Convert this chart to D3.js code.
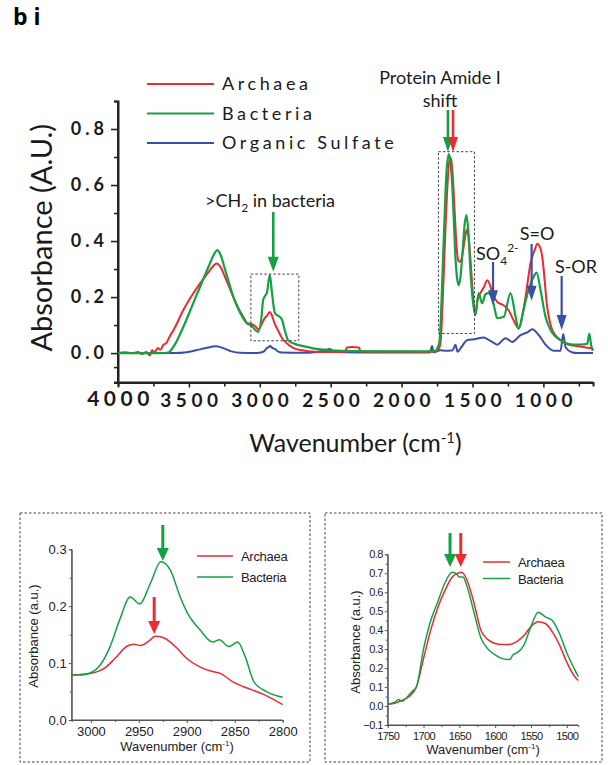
<!DOCTYPE html>
<html>
<head>
<meta charset="utf-8">
<script src="https://cdn.jsdelivr.net/npm/d3@7"></script>
<style>
  body { margin: 0; background: #fff; }
  svg { display: block; }
</style>
</head>
<body>
<div id="chart"></div>
<script>
// ---- main spectrum data (wavenumber, absorbance) ----
const archaeaWn = [4000, 3950, 3900, 3860, 3830, 3800, 3775, 3760, 3740, 3720, 3700, 3680, 3660, 3640, 3600, 3539, 3480, 3421, 3360, 3320, 3303, 3280, 3240, 3186, 3140, 3100, 3091, 3060, 3030, 3010, 2990, 2965, 2950, 2930, 2915, 2895, 2870, 2845, 2810, 2762, 2700, 2640, 2500, 2400, 2385, 2350, 2300, 2290, 2200, 2000, 1850, 1760, 1740, 1725, 1705, 1690, 1675, 1660, 1650, 1640, 1625, 1612, 1600, 1590, 1578, 1565, 1550, 1540, 1530, 1515, 1500, 1480, 1465, 1444, 1420, 1396, 1375, 1361, 1326, 1279, 1246, 1211, 1175, 1126, 1091, 1060, 1043, 1025, 1008, 973, 937, 879, 820, 761, 700, 667, 650];
const archaeaAbs = [0.000, 0.003, -0.001, 0.004, -0.004, 0.004, -0.009, 0.010, 0.004, 0.018, 0.012, 0.030, 0.035, 0.055, 0.090, 0.154, 0.205, 0.249, 0.290, 0.315, 0.320, 0.310, 0.265, 0.200, 0.150, 0.115, 0.107, 0.104, 0.095, 0.085, 0.100, 0.125, 0.133, 0.147, 0.135, 0.105, 0.080, 0.055, 0.035, 0.018, 0.010, 0.006, 0.004, 0.004, 0.020, 0.022, 0.020, 0.006, 0.005, 0.005, 0.004, 0.006, 0.012, 0.040, 0.250, 0.450, 0.610, 0.700, 0.690, 0.640, 0.500, 0.380, 0.330, 0.326, 0.335, 0.370, 0.420, 0.440, 0.425, 0.340, 0.230, 0.136, 0.190, 0.214, 0.235, 0.260, 0.240, 0.214, 0.183, 0.170, 0.154, 0.118, 0.089, 0.200, 0.320, 0.370, 0.390, 0.380, 0.344, 0.165, 0.082, 0.046, 0.030, 0.025, 0.020, 0.018, 0.010];

const bacteriaWn = [4000, 3800, 3700, 3645, 3600, 3539, 3480, 3421, 3360, 3320, 3299, 3280, 3240, 3186, 3140, 3100, 3091, 3060, 3030, 3011, 2990, 2976, 2962, 2950, 2929, 2915, 2895, 2880, 2861, 2844, 2821, 2800, 2750, 2693, 2600, 2524, 2400, 2291, 2100, 1900, 1760, 1745, 1733, 1726, 1703, 1684, 1667, 1655, 1645, 1632, 1620, 1608, 1597, 1585, 1570, 1555, 1542, 1530, 1515, 1500, 1480, 1456, 1432, 1408, 1385, 1352, 1326, 1279, 1232, 1196, 1175, 1140, 1105, 1069, 1048, 1020, 985, 949, 879, 787, 700, 690, 676, 662, 650];
const bacteriaAbs = [0.000, 0.000, 0.000, 0.002, 0.030, 0.094, 0.165, 0.237, 0.310, 0.355, 0.368, 0.355, 0.290, 0.200, 0.145, 0.112, 0.107, 0.098, 0.082, 0.076, 0.120, 0.190, 0.205, 0.215, 0.279, 0.220, 0.145, 0.136, 0.130, 0.120, 0.076, 0.046, 0.032, 0.025, 0.015, 0.011, 0.008, 0.007, 0.006, 0.006, 0.008, 0.020, 0.040, 0.094, 0.400, 0.640, 0.710, 0.680, 0.620, 0.480, 0.340, 0.265, 0.243, 0.270, 0.360, 0.460, 0.493, 0.440, 0.300, 0.200, 0.136, 0.214, 0.178, 0.210, 0.214, 0.178, 0.125, 0.130, 0.214, 0.130, 0.086, 0.154, 0.225, 0.272, 0.287, 0.225, 0.130, 0.082, 0.046, 0.030, 0.032, 0.034, 0.070, 0.025, 0.010];

const sulfateWn = [4000, 3800, 3600, 3515, 3450, 3380, 3311, 3260, 3200, 3138, 3050, 3000, 2970, 2950, 2935, 2927, 2910, 2891, 2870, 2844, 2700, 2600, 2540, 2510, 2480, 2400, 2200, 2000, 1850, 1800, 1785, 1775, 1740, 1726, 1691, 1640, 1620, 1605, 1580, 1538, 1479, 1420, 1380, 1361, 1326, 1267, 1220, 1161, 1110, 1078, 1032, 985, 926, 879, 860, 843, 800, 761, 650];
const sulfateAbs = [0.000, 0.000, 0.000, 0.003, 0.010, 0.018, 0.024, 0.018, 0.006, 0.001, 0.000, 0.001, 0.006, 0.018, 0.022, 0.026, 0.018, 0.014, 0.005, 0.002, 0.001, 0.004, 0.010, 0.015, 0.008, 0.003, 0.002, 0.002, 0.002, 0.002, 0.025, 0.003, 0.008, 0.010, 0.008, 0.010, 0.030, 0.005, 0.020, 0.046, 0.050, 0.056, 0.045, 0.040, 0.030, 0.053, 0.040, 0.064, 0.075, 0.085, 0.064, 0.030, 0.008, 0.008, 0.068, 0.020, 0.003, 0.000, 0.000];

const mainXTicks = [4000, 3500, 3000, 2500, 2000, 1500, 1000];
const mainYTicks = [0.0, 0.2, 0.4, 0.6, 0.8];
const legendNames = ["Archaea", "Bacteria", "Organic Sulfate"];

// ---- inset: CH2 stretch region ----
const chArchaeaWn = [3020, 3000, 2985, 2975, 2962, 2955, 2948, 2940, 2933, 2925, 2910, 2900, 2886, 2875, 2865, 2851, 2840, 2820, 2800];
const chArchaeaAbs = [0.079, 0.082, 0.092, 0.108, 0.130, 0.133, 0.131, 0.138, 0.147, 0.145, 0.126, 0.108, 0.093, 0.086, 0.082, 0.066, 0.058, 0.045, 0.027];
const chBacteriaWn = [3020, 3010, 3000, 2990, 2980, 2970, 2959, 2949, 2938, 2927, 2917, 2907, 2900, 2886, 2873, 2866, 2856, 2847, 2839, 2830, 2817, 2800];
const chBacteriaAbs = [0.079, 0.079, 0.083, 0.097, 0.129, 0.176, 0.216, 0.204, 0.240, 0.278, 0.263, 0.217, 0.190, 0.158, 0.137, 0.141, 0.129, 0.137, 0.111, 0.067, 0.050, 0.040];
const chXTicks = [3000, 2950, 2900, 2850, 2800];
const chYTicks = [0.0, 0.1, 0.2, 0.3];

// ---- inset: amide I / II region ----
const amArchaeaWn = [1750, 1740, 1730, 1720, 1710, 1700, 1690, 1680, 1670, 1660, 1652, 1647, 1640, 1630, 1620, 1610, 1600, 1590, 1580, 1570, 1560, 1550, 1540, 1530, 1520, 1510, 1500, 1490, 1484];
const amArchaeaAbs = [0.010, 0.015, 0.030, 0.050, 0.100, 0.250, 0.400, 0.520, 0.610, 0.680, 0.700, 0.705, 0.670, 0.550, 0.400, 0.350, 0.330, 0.325, 0.325, 0.340, 0.370, 0.420, 0.445, 0.435, 0.390, 0.320, 0.230, 0.160, 0.135];
const amBacteriaWn = [1750, 1740, 1735, 1730, 1720, 1715, 1710, 1700, 1690, 1680, 1670, 1660, 1655, 1650, 1645, 1640, 1630, 1620, 1610, 1600, 1590, 1580, 1575, 1570, 1560, 1550, 1540, 1530, 1520, 1510, 1500, 1490, 1484];
const amBacteriaAbs = [0.010, 0.020, 0.035, 0.025, 0.060, 0.080, 0.100, 0.300, 0.450, 0.550, 0.650, 0.705, 0.700, 0.680, 0.680, 0.640, 0.500, 0.360, 0.300, 0.270, 0.250, 0.245, 0.270, 0.280, 0.320, 0.420, 0.495, 0.470, 0.450, 0.380, 0.280, 0.200, 0.155];
const amXTicks = [1750, 1700, 1650, 1600, 1550, 1500];
const amYTicks = [-0.1, 0.0, 0.1, 0.2, 0.3, 0.4, 0.5, 0.6, 0.7, 0.8];

const RED = "#ec2a2f", GREEN = "#16a045", BLUE = "#3a4fa6";

const svg = d3.select("#chart").append("svg")
    .attr("width", 608).attr("height", 765);

function zip(xs, ys) { return xs.map((w, i) => ({w: w, a: ys[i]})); }

function arrow(g, x, y1, y2, color, sw, hw, hh) {
    g.append("line")
        .attr("x1", x).attr("x2", x).attr("y1", y1).attr("y2", y2 - hh + 1)
        .attr("stroke", color).attr("stroke-width", sw);
    g.append("path")
        .attr("d", `M${x - hw / 2},${y2 - hh}L${x + hw / 2},${y2 - hh}L${x},${y2}Z`)
        .attr("fill", color);
}

svg.append("text")
    .attr("x", 13).attr("y", 25)
    .style("font-family", "'Open Sans', sans-serif").style("font-weight", "bold").style("font-size", "23px")
    .text("b i");

// ================= main chart =================
const x = d3.scaleLinear().domain([4000, 650]).range([118, 593]);
const y = d3.scaleLinear().domain([-0.105, 0.9]).range([382.5, 101]);

const main = svg.append("g");

const xAxis = main.append("g")
    .attr("transform", `translate(0,${y(-0.105)})`)
    .call(d3.axisBottom(x).tickValues(mainXTicks).tickSize(5).tickFormat(d3.format("d")));
main.append("g")
    .attr("transform", `translate(0,${y(-0.105)})`)
    .call(d3.axisBottom(x).tickValues(d3.range(3750, 649, -500)).tickSize(4).tickFormat(""));
const yAxis = main.append("g")
    .attr("transform", `translate(${x(4000)},0)`)
    .call(d3.axisLeft(y).tickValues(mainYTicks).tickSize(7).tickFormat(d3.format(".1f")));
main.append("g")
    .attr("transform", `translate(${x(4000)},0)`)
    .call(d3.axisLeft(y).tickValues([-0.05, 0.1, 0.3, 0.5, 0.7, 0.9]).tickSize(4).tickFormat(""));

main.selectAll(".domain").attr("stroke", "#222").attr("stroke-width", 2);
main.selectAll(".tick line").attr("stroke", "#222").attr("stroke-width", 1.6);
xAxis.select(".domain").attr("d", `M${x(4000) - 4},0H${x(650)}`);
yAxis.select(".domain").attr("d", `M0,${y(-0.105)}V${y(0.9)}`);

xAxis.selectAll("text")
    .attr("y", 11).attr("dy", "0.71em").attr("dx", "2px")
    .style("font-family", "Lato, sans-serif").style("font-weight", "bold")
    .style("font-size", "19px").style("letter-spacing", "4.5px").attr("fill", "#1a1a1a");
xAxis.selectAll("text").filter(d => d === 4000).style("font-size", "21px").attr("y", 9);
yAxis.selectAll("text")
    .attr("x", -10)
    .style("font-family", "Lato, sans-serif").style("font-weight", "bold")
    .style("font-size", "18px").style("letter-spacing", "4px").attr("fill", "#1a1a1a");

main.append("text")
    .attr("transform", `translate(52,${(y(-0.105) + y(0.9)) / 2 - 4}) rotate(-90)`)
    .attr("text-anchor", "middle")
    .style("font-family", "Lato, sans-serif").style("font-size", "29px").attr("fill", "#1a1a1a")
    .text("Absorbance (A.U.)");

const xt = main.append("text")
    .attr("x", (x(4000) + x(650)) / 2).attr("y", 452)
    .attr("text-anchor", "middle")
    .style("font-family", "Lato, sans-serif").style("font-size", "25px").attr("fill", "#1a1a1a");
xt.append("tspan").text("Wavenumber (cm");
xt.append("tspan").attr("dy", -9).style("font-size", "15px").text("-1");
xt.append("tspan").attr("dy", 9).text(")");

const mainLine = d3.line().x(d => x(d.w)).y(d => y(d.a)).curve(d3.curveMonotoneX);
const mainSeries = [
    {name: legendNames[0], color: RED, data: zip(archaeaWn, archaeaAbs), w: 2},
    {name: legendNames[1], color: GREEN, data: zip(bacteriaWn, bacteriaAbs), w: 2.2},
    {name: legendNames[2], color: BLUE, data: zip(sulfateWn, sulfateAbs), w: 2}
];
// draw sulfate first, then archaea, bacteria on top
[mainSeries[2], mainSeries[0], mainSeries[1]].forEach(s => {
    main.append("path").datum(s.data)
        .attr("fill", "none").attr("stroke", s.color)
        .attr("stroke-width", s.w).attr("stroke-linejoin", "round")
        .attr("d", mainLine);
});

// legend
mainSeries.forEach((s, i) => {
    const ly = 84 + i * 29.5;
    main.append("line").attr("x1", 147).attr("x2", 214).attr("y1", ly).attr("y2", ly)
        .attr("stroke", s.color).attr("stroke-width", 2);
    main.append("text").attr("x", 222).attr("y", ly + 6)
        .style("font-family", "Lato, sans-serif").style("font-size", "18px")
        .style("letter-spacing", "3.6px").attr("fill", "#1a1a1a")
        .text(s.name);
});

// dashed boxes
function dashBox(g, x0, x1, y0, y1) {
    g.append("rect")
        .attr("x", Math.min(x0, x1)).attr("y", Math.min(y0, y1))
        .attr("width", Math.abs(x1 - x0)).attr("height", Math.abs(y1 - y0))
        .attr("fill", "none").attr("stroke", "#444").attr("stroke-width", 1)
        .attr("stroke-dasharray", "2.5,2");
}
dashBox(main, x(3063), x(2725), y(0.282), y(0.044));
dashBox(main, x(1740), x(1486), y(0.719), y(0.07));

// annotations
const annFont = "Lato, sans-serif";
main.append("text").attr("x", 440).attr("y", 84).attr("text-anchor", "middle")
    .style("font-family", annFont).style("font-size", "18px").attr("fill", "#1a1a1a")
    .text("Protein Amide I");
main.append("text").attr("x", 440).attr("y", 107).attr("text-anchor", "middle")
    .style("font-family", annFont).style("font-size", "18px").attr("fill", "#1a1a1a")
    .text("shift");
arrow(main, x(1673), 110, y(0.718), GREEN, 2.6, 10, 15);
arrow(main, x(1637), 110, y(0.718), RED, 2.6, 10, 15);

const ch = main.append("text").attr("x", 270).attr("y", 207).attr("text-anchor", "middle")
    .style("font-family", annFont).style("font-size", "18px").attr("fill", "#1a1a1a");
ch.append("tspan").text(">CH");
ch.append("tspan").attr("dy", 5).style("font-size", "12px").text("2");
ch.append("tspan").attr("dy", -5).text(" in bacteria");
arrow(main, x(2905), 212, y(0.29), GREEN, 2.6, 11, 15);

const so4 = main.append("text").attr("x", 476).attr("y", 260)
    .style("font-family", annFont).style("font-size", "18px").attr("fill", "#1a1a1a");
so4.append("tspan").text("SO");
so4.append("tspan").attr("dy", 5).style("font-size", "12px").text("4");
so4.append("tspan").attr("dy", -13).style("font-size", "12px").text("2-");
arrow(main, x(1355), 262, y(0.171), BLUE, 2.2, 10, 15);

main.append("text").attr("x", 537).attr("y", 240).attr("text-anchor", "middle")
    .style("font-family", annFont).style("font-size", "18px").attr("fill", "#1a1a1a")
    .text("S=O");
arrow(main, x(1083), 244, y(0.187), BLUE, 2.2, 10, 15);

main.append("text").attr("x", 576).attr("y", 273).attr("text-anchor", "middle")
    .style("font-family", annFont).style("font-size", "18px").attr("fill", "#1a1a1a")
    .text("S-OR");
arrow(main, x(871), 276, y(0.082), BLUE, 2.2, 10, 15);

// ================= insets =================
function inset(opts) {
    const g = svg.append("g");
    dashBox(g, opts.box[0], opts.box[1], opts.box[2], opts.box[3]);
    const sx = d3.scaleLinear().domain(opts.xd).range(opts.xr);
    const sy = d3.scaleLinear().domain(opts.yd).range(opts.yr);
    const font = "'Liberation Sans', Arial, sans-serif";

    const ax = g.append("g").attr("transform", `translate(0,${opts.yr[0]})`)
        .call(d3.axisBottom(sx).tickValues(opts.xticks).tickSize(3).tickFormat(d3.format("d")));
    g.append("g").attr("transform", `translate(0,${opts.yr[0]})`)
        .call(d3.axisBottom(sx).tickValues(opts.xminor).tickSize(2).tickFormat(""));
    const ay = g.append("g").attr("transform", `translate(${opts.xr[0]},0)`)
        .call(d3.axisLeft(sy).tickValues(opts.yticks).tickSize(3).tickFormat(d3.format(".1f")));
    g.append("g").attr("transform", `translate(${opts.xr[0]},0)`)
        .call(d3.axisLeft(sy).tickValues(opts.yminor).tickSize(2).tickFormat(""));
    g.selectAll(".domain").attr("stroke", "#555").attr("stroke-width", 1);
    g.selectAll(".tick line").attr("stroke", "#555");
    ax.select(".domain").attr("d", `M${opts.xr[0]},0H${opts.xr[1]}`);
    ay.select(".domain").attr("d", `M0,${opts.yr[0]}V${opts.yr[1]}`);
    ax.selectAll("text").attr("y", 7)
        .style("font-family", font).style("font-size", opts.tickFs + "px")
        .style("letter-spacing", opts.tickLs + "px").attr("fill", "#222");
    ay.selectAll("text").attr("x", -5)
        .style("font-family", font).style("font-size", opts.tickFs + "px")
        .style("letter-spacing", opts.tickLs + "px").attr("fill", "#222");

    g.append("text")
        .attr("transform", `translate(${opts.ytitle[0]},${opts.ytitle[1]}) rotate(-90)`)
        .attr("text-anchor", "middle")
        .style("font-family", font).style("font-size", "13px").attr("fill", "#222")
        .text("Absorbance (a.u.)");
    const t = g.append("text").attr("x", opts.xtitle[0]).attr("y", opts.xtitle[1])
        .attr("text-anchor", "middle")
        .style("font-family", font).style("font-size", "13px").attr("fill", "#222");
    t.append("tspan").text("Wavenumber (cm");
    t.append("tspan").attr("dy", -5).style("font-size", "8px").text("-1");
    t.append("tspan").attr("dy", 5).text(")");

    const line = d3.line().x(d => sx(d.w)).y(d => sy(d.a)).curve(d3.curveMonotoneX);
    opts.series.forEach(s => {
        g.append("path").datum(s.data)
            .attr("fill", "none").attr("stroke", s.color).attr("stroke-width", 1.5)
            .attr("d", line);
    });
    opts.series.forEach((s, i) => {
        const ly = opts.legend[1] + i * opts.legend[3];
        g.append("line").attr("x1", opts.legend[0]).attr("x2", opts.legend[0] + opts.legend[2])
            .attr("y1", ly).attr("y2", ly).attr("stroke", s.color).attr("stroke-width", 1.5);
        g.append("text").attr("x", opts.legend[0] + opts.legend[2] + 8).attr("y", ly + 5)
            .style("font-family", font).style("font-size", "13px").style("letter-spacing", "-0.3px")
            .attr("fill", "#222").text(s.name);
    });
    opts.arrows.forEach(a => arrow(g, sx(a.w), a.y1, a.y2, a.color, 3, 12, 13));
    return g;
}

inset({
    box: [20, 310, 513, 762],
    xd: [3020, 2800], xr: [71.7, 282.7],
    yd: [0, 0.3], yr: [720, 549.3],
    xticks: chXTicks, xminor: d3.range(2975, 2800, -50),
    yticks: chYTicks, yminor: [0.05, 0.15, 0.25],
    tickFs: 13, tickLs: 0,
    ytitle: [38, 636], xtitle: [177, 751],
    legend: [197, 556, 36, 21],
    series: [
        {name: legendNames[0], color: RED, data: zip(chArchaeaWn, chArchaeaAbs)},
        {name: legendNames[1], color: GREEN, data: zip(chBacteriaWn, chBacteriaAbs)}
    ],
    arrows: [
        {w: 2925, y1: 525, y2: 561, color: GREEN},
        {w: 2934, y1: 597, y2: 634, color: RED}
    ]
});

inset({
    box: [325, 602, 513, 762],
    xd: [1750, 1484], xr: [387.7, 578.3],
    yd: [-0.1, 0.8], yr: [725, 554.3],
    xticks: amXTicks, xminor: d3.range(1725, 1484, -50),
    yticks: amYTicks, yminor: d3.range(-0.05, 0.8, 0.1),
    tickFs: 11, tickLs: -0.6,
    ytitle: [360, 642], xtitle: [483, 754],
    legend: [483, 562, 27, 16.5],
    series: [
        {name: legendNames[0], color: RED, data: zip(amArchaeaWn, amArchaeaAbs)},
        {name: legendNames[1], color: GREEN, data: zip(amBacteriaWn, amBacteriaAbs)}
    ],
    arrows: [
        {w: 1663, y1: 533, y2: 567, color: GREEN},
        {w: 1648, y1: 533, y2: 567, color: RED}
    ]
});
</script>
</body>
</html>
